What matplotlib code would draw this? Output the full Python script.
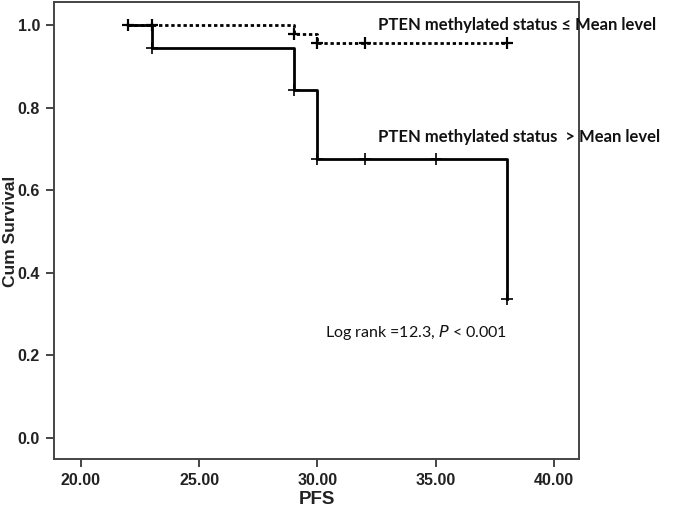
import matplotlib
matplotlib.use("Agg")
import matplotlib.pyplot as plt

# Data
high_times = [22, 23, 29, 30, 38]
high_surv = [1.0, 0.944, 0.843, 0.675, 0.337]
high_cens_t = [22, 23, 29, 30, 32, 35, 38]
high_cens_s = [1.0, 0.944, 0.843, 0.675, 0.675, 0.675, 0.337]

low_times = [22, 29, 30, 38]
low_surv = [1.0, 0.978, 0.956, 0.956]
low_cens_t = [22, 23, 29, 30, 32, 38]
low_cens_s = [1.0, 1.0, 0.978, 0.956, 0.956, 0.956]

xticks = [20, 25, 30, 35, 40]
yticks = [0.0, 0.2, 0.4, 0.6, 0.8, 1.0]

fig = plt.figure(figsize=(6.85, 5.14), dpi=100)
ax = fig.add_axes([54/685, 1 - 459/514, (579-54)/685, (459-2)/514])

ax.step(low_times, low_surv, where='post', color='black', lw=2.0,
        linestyle=(0, (1.2, 1.0)))
ax.plot(low_cens_t, low_cens_s, linestyle='none', marker='+', color='black',
        markersize=9, markeredgewidth=1.6)
ax.step(high_times, high_surv, where='post', color='black', lw=2.0)
ax.plot(high_cens_t, high_cens_s, linestyle='none', marker='+', color='black',
        markersize=9, markeredgewidth=1.2)

ax.set_xlim(18.86, 41.06)
ax.set_ylim(-0.051, 1.056)
ax.set_xticks(xticks)
ax.set_xticklabels([f"{v:.2f}" for v in xticks])
ax.set_yticks(yticks)
ax.set_yticklabels([f"{v:.1f}" for v in yticks])

tickfam = ['Liberation Sans Narrow', 'Liberation Sans']
for s in ax.spines.values():
    s.set_color('#444444')
    s.set_linewidth(1.4)
ax.tick_params(direction='out', length=6, width=1.4, color='#444444', pad=4)
for lab in ax.get_xticklabels() + ax.get_yticklabels():
    lab.set_fontfamily(tickfam)
    lab.set_fontweight('bold')
    lab.set_fontsize(11.5)
    lab.set_color('#222222')

fig.text(317/685, 1 - 500/514, 'PFS', fontfamily='Liberation Sans', fontweight='bold',
         fontsize=13.5, color='#222222', ha='center', va='center')
fig.text(11/685, 1 - 231/514, 'Cum Survival', fontfamily='Liberation Sans', fontweight='bold',
         fontsize=12.5, color='#222222', ha='center', va='center', rotation=90)

tf = dict(fontfamily='Lato', fontweight='bold', fontsize=12, color='#111111', va='center', ha='left')
fig.text(378/685, 1 - 25/514, 'PTEN methylated status \u2264 Mean level', **tf)
fig.text(378/685, 1 - 137/514, 'PTEN methylated status  > Mean level', **tf)
fig.text(325/685, 1 - 332/514, 'Log rank =12.3, $\\it{P}$ < 0.001',
         fontfamily='Lato', fontsize=11.5, color='#111111', va='center', ha='left')

fig.savefig('out.png', dpi=100)
